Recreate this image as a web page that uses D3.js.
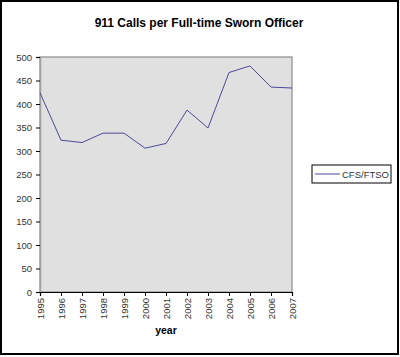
<!DOCTYPE html>
<html><head><meta charset="utf-8">
<script src="https://cdn.jsdelivr.net/npm/d3@7"></script>
<style>body{margin:0;background:#fff}svg{display:block}</style>
</head><body>
<script>
const years = ["1995","1996","1997","1998","1999","2000","2001","2002","2003","2004","2005","2006","2007"];
const cfsFtso = [424, 323, 318, 338, 338, 306, 316, 387, 349, 467, 481, 436, 434];
const yTicks = [0,50,100,150,200,250,300,350,400,450,500];
const seriesName = "CFS/FTSO";
const titleText = "911 Calls per Full-time Sworn Officer";
const xTitle = "year";

(function(){
const W = 400, H = 357;
const svg = d3.select("body").append("svg").attr("width", W).attr("height", H);
const font = "Liberation Sans, Arial, sans-serif";

svg.append("rect").attr("x",1).attr("y",1).attr("width",397).attr("height",353)
  .attr("fill","#fff").attr("stroke","#000").attr("stroke-width",2);

const pL = 40, pR = 292, pT = 57, pB = 292;
const x = d3.scalePoint().domain(years).range([pL, pR]);
const y = d3.scaleLinear().domain([0,500]).range([pB, pT]);

svg.append("rect").attr("x",pL).attr("y",pT).attr("width",pR-pL).attr("height",pB-pT)
  .attr("fill","#e0e0e0").attr("stroke","#a0a0a0").attr("stroke-width",1.5);

const ya = svg.append("g").attr("transform",`translate(${pL},0)`)
  .call(d3.axisLeft(y).tickValues(yTicks).tickSize(4).tickPadding(4));
ya.select(".domain").attr("stroke","#a0a0a0").attr("stroke-width",1.5);
ya.selectAll(".tick line").attr("stroke","#000");
ya.selectAll("text").attr("font-family",font).attr("font-size",9.5).attr("fill","#333");

const xa = svg.append("g").attr("transform",`translate(0,${pB})`)
  .call(d3.axisBottom(x).tickSize(4).tickPadding(4));
xa.select(".domain").attr("stroke","#000").attr("stroke-width",1.2);
xa.selectAll(".tick line").attr("stroke","#000");
xa.selectAll("text").attr("font-family",font).attr("font-size",9.5).attr("fill","#333")
  .attr("transform","rotate(-90)").attr("text-anchor","end").attr("dy","0.35em")
  .attr("x",-6).attr("y",0);

const line = d3.line().x((d,i)=>x(years[i])).y(d=>y(d));
svg.append("path").datum(cfsFtso).attr("d",line).attr("fill","none")
  .attr("stroke","#4a4a9a").attr("stroke-width",1);

svg.append("text").attr("x",199).attr("y",27).attr("text-anchor","middle")
  .attr("font-family",font).attr("font-weight","bold").attr("font-size",12).text(titleText);

svg.append("text").attr("x",166).attr("y",334).attr("text-anchor","middle")
  .attr("font-family",font).attr("font-weight","bold").attr("font-size",10.5).text(xTitle);

const lg = svg.append("g");
lg.append("rect").attr("x",312).attr("y",165).attr("width",79).attr("height",18)
  .attr("fill","#fff").attr("stroke","#000").attr("stroke-width",1);
lg.append("line").attr("x1",315).attr("x2",340).attr("y1",174).attr("y2",174)
  .attr("stroke","#4a4a9a").attr("stroke-width",1);
lg.append("text").attr("x",342).attr("y",177.5).attr("font-family",font).attr("font-size",9.5)
  .attr("fill","#333").text(seriesName);
})();
</script>
</body></html>
